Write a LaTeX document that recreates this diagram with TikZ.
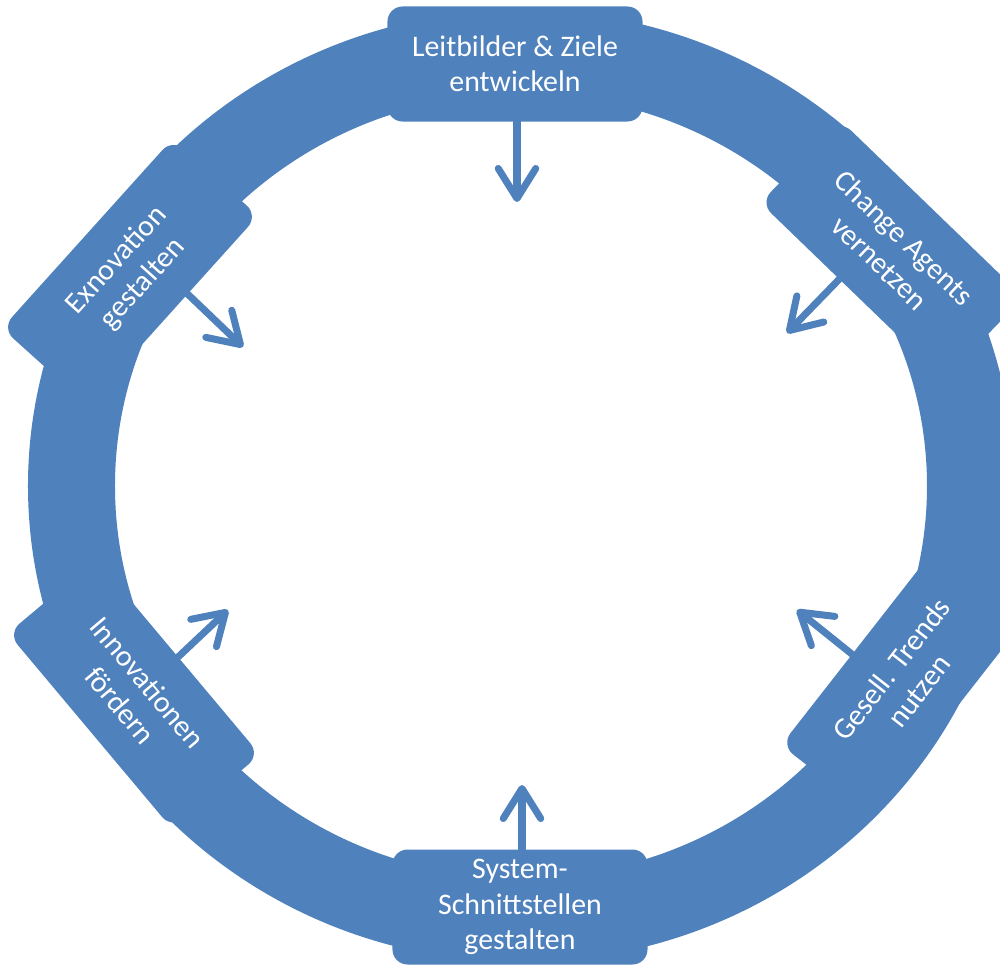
\documentclass[tikz,border=0pt]{standalone}
\usepackage{fontspec}
\setmainfont{Carlito}
\usetikzlibrary{arrows.meta}
\definecolor{ringblue}{HTML}{4F81BD}

\begin{document}
\begin{tikzpicture}[
  stage/.style={fill=ringblue, rounded corners=0.3cm, minimum width=5.1cm, minimum height=2.3cm, inner sep=2pt, align=center, text=white, font=\fontsize{17}{20}\selectfont},
  push/.style={draw=ringblue, line width=4pt, line cap=round, -{Straight Barb[length=0.6cm, width=0.75cm, round]}}
]
\useasboundingbox (-10.42,-9.58) rectangle (9.58,9.72);
\clip (-10.42,-9.58) rectangle (9.58,9.72);

% ring
\fill[ringblue, even odd rule] (0,0) ellipse [x radius=9.86, y radius=9.52]
  (0,0) ellipse [x radius=8.12, y radius=7.84];

\node[stage] (lead) at (-0.12,8.44) {Leitbilder \& Ziele\\entwickeln};
\node[stage, rotate=-44] (agents) at (7.42,4.72) {Change Agents\\vernetzen};
\node[stage, rotate=52] (trends) at (7.68,-3.88) {Gesell. Trends\\nutzen};
\node[stage] (iface) at (-0.02,-8.42) {System-\\Schnittstellen\\gestalten};
\node[stage, rotate=-50] (innov) at (-7.74,-4.16) {Innovationen\\fördern};
\node[stage, rotate=48] (exnov) at (-7.82,4.28) {Exnovation\\gestalten};

\coordinate (leadtip) at (-0.08,5.68);
\coordinate (agentstip) at (5.32,3.06);
\coordinate (trendstip) at (5.52,-2.48);
\coordinate (ifacetip) at (0.02,-5.98);
\coordinate (innovtip) at (-5.86,-2.48);
\coordinate (exnovtip) at (-5.56,2.78);

\draw[push] (lead.south -| leadtip) -- (leadtip);
\draw[push] (agents.-107) -- (agentstip);
\draw[push] (trends.102) -- (trendstip);
\draw[push] (iface.north -| ifacetip) -- (ifacetip);
\draw[push] (innov.north) -- (innovtip);
\draw[push] (exnov.-69) -- (exnovtip);
\end{tikzpicture}
\end{document}
